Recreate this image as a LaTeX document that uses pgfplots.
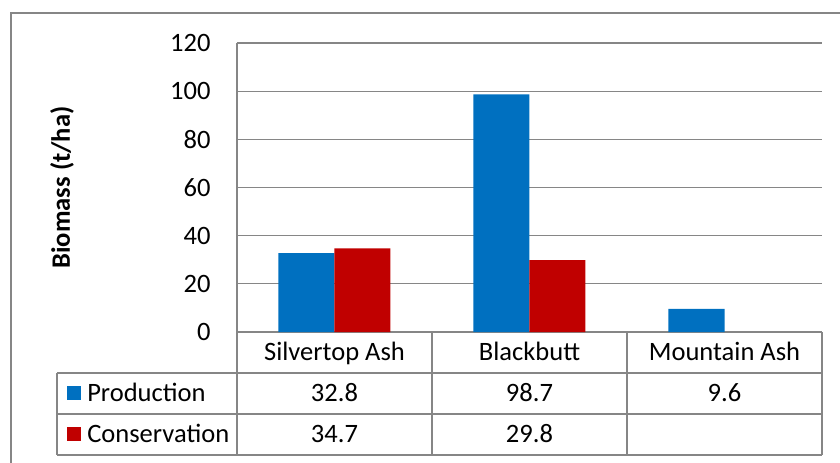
\documentclass[border=0pt]{standalone}
\usepackage{pgfplots}
\pgfplotsset{compat=1.18}
\usepackage{fontspec}
\setmainfont{Carlito}
\definecolor{prodblue}{RGB}{0,112,192}
\definecolor{consred}{RGB}{192,0,0}
\definecolor{gridgray}{RGB}{134,134,134}
\begin{document}
\fontsize{19.9}{24}\selectfont
\begin{tikzpicture}
\begin{scope}[x=0.75pt,y=-0.75pt]
\useasboundingbox (0,0) rectangle (840,462);
\draw[gridgray, line width=1.1pt] (11,470) -- (11,13) -- (850,13);
\end{scope}
\begin{axis}[
  at={(177.75pt,-249pt)}, anchor=south west,
  scale only axis, width=438.75pt, height=216.75pt,
  xmin=0, xmax=3, ymin=0, ymax=120,
  ytick={0,20,40,60,80,100,120},
  xtick=\empty,
  ybar=0pt, bar width=42pt,
  ymajorgrids, grid style={gridgray, line width=0.9pt},
  axis y line*=left, axis x line*=bottom,
  axis line style={gridgray, line width=1.1pt},
  major tick length=0pt,
  /pgf/number format/assume math mode=true,
  yticklabel style={xshift=-13pt, font=\fontsize{19.9}{24}\selectfont},
  ylabel={\textbf{Biomass (t/ha)}},
  every axis y label/.style={at={(axis description cs:-0.299,0.5)}, rotate=90, anchor=center, font=\fontsize{19.9}{24}\selectfont},
  clip=false,
]
\addplot[fill=prodblue, draw=none] coordinates {(0.5,32.8) (1.5,98.7) (2.5,9.6)};
\addplot[fill=consred, draw=none] coordinates {(0.5,34.7) (1.5,29.8)};
\end{axis}
\begin{scope}[x=0.75pt,y=-0.75pt]
\begin{scope}[gridgray, line width=1.1pt]
\draw (57,373) -- (822,373);
\draw (57,414) -- (822,414);
\draw (57,455) -- (822,455);
\draw (57,373) -- (57,455);
\draw (237,332) -- (237,455);
\draw (432,332) -- (432,455);
\draw (627,332) -- (627,455);
\draw (822,332) -- (822,455);
\end{scope}
\node[anchor=base, inner sep=0] at (334.5,360) {Silvertop Ash};
\node[anchor=base, inner sep=0] at (529.5,360) {Blackbutt};
\node[anchor=base, inner sep=0] at (724.5,360) {Mountain Ash};
\fill[prodblue] (67,386) rectangle (81,400);
\fill[consred] (67,427) rectangle (81,441);
\node[anchor=base west, inner sep=0] at (87,401.5) {Production};
\node[anchor=base west, inner sep=0] at (87,442.5) {Conservation};
\node[anchor=base, inner sep=0] at (334.5,401.5) {32.8};
\node[anchor=base, inner sep=0] at (529.5,401.5) {98.7};
\node[anchor=base, inner sep=0] at (724.5,401.5) {9.6};
\node[anchor=base, inner sep=0] at (334.5,442.5) {34.7};
\node[anchor=base, inner sep=0] at (529.5,442.5) {29.8};
\end{scope}
\end{tikzpicture}
\end{document}
